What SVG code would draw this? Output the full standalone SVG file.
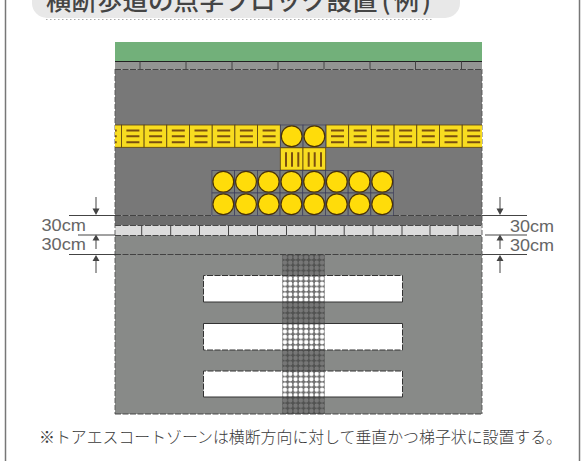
<svg xmlns="http://www.w3.org/2000/svg" xmlns:xlink="http://www.w3.org/1999/xlink" width="588" height="461" viewBox="0 0 588 461">
<style>
.jp{font-family:"Noto Sans CJK JP","Liberation Sans",sans-serif}
.dim{font-family:"Liberation Sans","DejaVu Sans",sans-serif;font-size:17px;fill:#666}
.d{stroke:#3a3a3a;stroke-width:0.9;stroke-dasharray:6 1.5;fill:none}
.s{stroke:#444;stroke-width:1;fill:none}
.lb{stroke:#333;stroke-width:1;fill:none}
.bar{stroke:#7a4f10;stroke-width:2;fill:none}
.c{fill:#ffdc0a;stroke:#4a3208;stroke-width:1.2}
.ar{stroke:#555;stroke-width:1.1;fill:none}
.white{fill:#fff}
</style>
<defs>
<clipPath id="road"><rect x="115" y="42" width="367" height="372"/></clipPath>
<g id="th"><rect width="22.7" height="22.3" fill="#f8dc20" stroke="#5a4210" stroke-width="0.8"/><path class="bar" d="M5 5.5H18M5 11.3H18M5 17.3H18"/></g>
<g id="tv"><rect width="22.7" height="22.3" fill="#f8dc20" stroke="#5a4210" stroke-width="0.8"/><path class="bar" d="M5.7 4.5V19M11.7 4.5V19M18 4.5V19"/></g>
<g id="dot"><rect x="-11.35" y="-11.2" width="22.7" height="22.4" fill="#7c807c" stroke="#3c3c5c" stroke-width="0.7"/><circle class="c" r="10.4"/></g>
<pattern id="grid" x="282.3" y="254.7" width="5.3" height="5.3" patternUnits="userSpaceOnUse">
<path d="M0 0H5.300V5.300H0ZM2.650 0.500A2.150 2.150 0 1 0 2.650 4.800A2.150 2.150 0 1 0 2.650 0.500Z" fill="#3e3e3e" fill-rule="evenodd" opacity="0.75"/>
</pattern>
<pattern id="gridshade" x="282.3" y="254.7" width="5.3" height="5.3" patternUnits="userSpaceOnUse">
<circle cx="2.65" cy="2.65" r="2" fill="#777"/>
</pattern>
</defs>
<rect width="588" height="461" fill="#fff"/>
<path d="M5.500 0V461M579.500 0V461" stroke="#777" stroke-width="1.5" fill="none"/>

<g id="title">
<rect x="32" y="-30" width="428" height="48" rx="15" fill="#e8e8e8"/>
<path d="M46 19.500H432" stroke="#aaa" stroke-width="1" stroke-dasharray="1.500 2.500"/>
<text class="jp" x="46" y="10" font-size="25.500" fill="#444" font-weight="500">横断歩道の点字ブロック設置<tspan dx="4" letter-spacing="3">(例)</tspan></text>
</g>

<g id="road-surface">
<rect x="115" y="42" width="367" height="19.500" fill="#72b07a"/>
<rect x="115" y="61.500" width="367" height="8" fill="#939593"/>
<rect x="115" y="69.500" width="367" height="146" fill="#787878"/>
<rect x="115" y="215.500" width="367" height="10" fill="#6c6c6c"/>
<rect x="115" y="225.500" width="367" height="10" fill="#dcdcdc"/>
<rect x="115" y="235.500" width="367" height="178.500" fill="#888a88"/>
<path d="M115 61.500H482" stroke="#222" stroke-width="1"/>
<path class="d" d="M115 69.500H482"/>
<path class="s" d="M140 61.500V69.500M186 61.500V69.500M232 61.500V69.500M278 61.500V69.500M324 61.500V69.500M370 61.500V69.500M415.500 61.500V69.500M461.500 61.500V69.500"/>
<path class="d" d="M115 225.500H482M115 235.500H482"/>
<path class="s" d="M141.700 225.500V235.500M170.700 225.500V235.500M199.500 225.500V235.500M228.500 225.500V235.500M257.500 225.500V235.500M286.500 225.500V235.500M315.300 225.500V235.500M344.200 225.500V235.500M373 225.500V235.500M402 225.500V235.500M430 225.500V235.500M458 225.500V235.500"/>
<path d="M115 69V414M482 69V414" stroke="#555" stroke-width="0.9" stroke-dasharray="5 2" fill="none"/>
<path class="d" d="M115 414H482"/>
</g>

<g id="crosswalk">
<rect class="white" x="203.500" y="275.500" width="199" height="26.500"/>
<rect class="white" x="203.500" y="323.500" width="199" height="26.500"/>
<rect class="white" x="203.500" y="371" width="199" height="26"/>
<path class="lb" stroke-dasharray="6 1.500" d="M203.500 302V275.500H402.500V302"/>
<path class="lb" d="M203.500 302H402.500"/>
<path class="lb" d="M203.500 323.500H402.500"/>
<path class="lb" stroke-dasharray="6 1.500" d="M203.500 323.500V350H402.500V323.500"/>
<path class="lb" stroke-dasharray="6 1.500" d="M203.500 397V371H402.500V397"/>
<path class="lb" d="M203.500 397H402.500"/>
</g>

<g id="escort-zone">
<path fill="url(#gridshade)" d="M282.300 254.700H324.700V275.500H282.300ZM282.300 302H324.700V323.500H282.300ZM282.300 350H324.700V371H282.300ZM282.300 397H324.700V414H282.300Z"/>
<rect x="282.300" y="254.700" width="42.400" height="159.300" fill="url(#grid)"/>
</g>

<g id="yellow-blocks" clip-path="url(#road)">
<use xlink:href="#th" href="#th" x="98.700" y="125"/>
<use xlink:href="#th" href="#th" x="121.400" y="125"/>
<use xlink:href="#th" href="#th" x="144.100" y="125"/>
<use xlink:href="#th" href="#th" x="166.800" y="125"/>
<use xlink:href="#th" href="#th" x="189.500" y="125"/>
<use xlink:href="#th" href="#th" x="212.200" y="125"/>
<use xlink:href="#th" href="#th" x="234.900" y="125"/>
<use xlink:href="#th" href="#th" x="257.600" y="125"/>
<use xlink:href="#th" href="#th" x="326" y="125"/>
<use xlink:href="#th" href="#th" x="348.700" y="125"/>
<use xlink:href="#th" href="#th" x="371.400" y="125"/>
<use xlink:href="#th" href="#th" x="394.100" y="125"/>
<use xlink:href="#th" href="#th" x="416.800" y="125"/>
<use xlink:href="#th" href="#th" x="439.500" y="125"/>
<use xlink:href="#th" href="#th" x="462.200" y="125"/>
<use xlink:href="#dot" href="#dot" x="291.700" y="136.200"/>
<use xlink:href="#dot" href="#dot" x="314.400" y="136.200"/>
<use xlink:href="#tv" href="#tv" x="280.300" y="147.800"/>
<use xlink:href="#tv" href="#tv" x="303" y="147.800"/>
<use xlink:href="#dot" href="#dot" x="223.300" y="181.800"/>
<use xlink:href="#dot" href="#dot" x="246" y="181.800"/>
<use xlink:href="#dot" href="#dot" x="268.700" y="181.800"/>
<use xlink:href="#dot" href="#dot" x="291.400" y="181.800"/>
<use xlink:href="#dot" href="#dot" x="314.100" y="181.800"/>
<use xlink:href="#dot" href="#dot" x="336.800" y="181.800"/>
<use xlink:href="#dot" href="#dot" x="359.500" y="181.800"/>
<use xlink:href="#dot" href="#dot" x="382.200" y="181.800"/>
<use xlink:href="#dot" href="#dot" x="223.300" y="204.200"/>
<use xlink:href="#dot" href="#dot" x="246" y="204.200"/>
<use xlink:href="#dot" href="#dot" x="268.700" y="204.200"/>
<use xlink:href="#dot" href="#dot" x="291.400" y="204.200"/>
<use xlink:href="#dot" href="#dot" x="314.100" y="204.200"/>
<use xlink:href="#dot" href="#dot" x="336.800" y="204.200"/>
<use xlink:href="#dot" href="#dot" x="359.500" y="204.200"/>
<use xlink:href="#dot" href="#dot" x="382.200" y="204.200"/>
</g>

<g id="connectors">
<path d="M69 215.500H115M69 254.500H115M78 235H115M482 215.500H527M482 254.500H527M485 235H527" stroke="#444" stroke-width="1" fill="none"/>
<path class="d" d="M115 215.500H212M393 215.500H482M115 254.500H482"/>
<path class="ar" d="M96 197V213M96 237V249M96 257V273M500 197V213M500 237V249M500 257V273"/>
<path fill="#444" d="M92.500 208.500H99.500L96 215ZM92.500 240.500H99.500L96 234.500ZM92.500 261H99.500L96 255ZM496.500 208.500H503.500L500 215ZM496.500 240.500H503.500L500 234.500ZM496.500 261H503.500L500 255Z"/>
</g>

<g id="labels">
<text class="dim" x="41.500" y="231" textLength="44.500" lengthAdjust="spacingAndGlyphs">30cm</text>
<text class="dim" x="41.500" y="250" textLength="44.500" lengthAdjust="spacingAndGlyphs">30cm</text>
<text class="dim" x="510" y="232" textLength="44" lengthAdjust="spacingAndGlyphs">30cm</text>
<text class="dim" x="510" y="251" textLength="44" lengthAdjust="spacingAndGlyphs">30cm</text>
<text class="jp" x="39" y="443" font-size="16" textLength="523" lengthAdjust="spacingAndGlyphs" fill="#3a3a3a" font-weight="300">※トアエスコートゾーンは横断方向に対して垂直かつ梯子状に設置する。</text>
</g>
</svg>
